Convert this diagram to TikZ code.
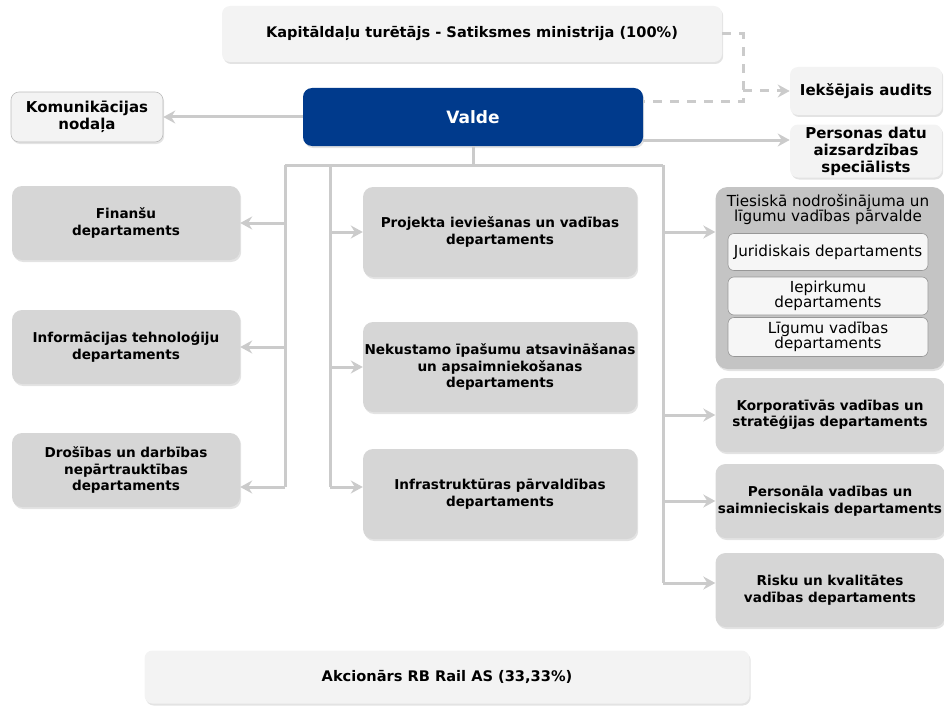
\documentclass[tikz,border=0pt]{standalone}
\usepackage{fontspec}
\setmainfont{DejaVu Sans}
\usetikzlibrary{arrows.meta,shadows}
\newcommand{\boxfont}{\fontsize{13.6}{16.5}\selectfont}
\newcommand{\lightfont}{\fontsize{15}{17}\selectfont}
\newcommand{\widefont}{\fontsize{14.6}{17}\selectfont}
\newcommand{\subfont}{\fontsize{15.2}{15}\selectfont}

\begin{document}
\begin{tikzpicture}[x=1pt,y=-1pt,
  shade box/.style={drop shadow={opacity=0.22,shadow xshift=1.2pt,shadow yshift=-2pt}},
  deptbox/.style={shade box,rounded corners=10pt,fill=deptgray,align=center,inner sep=1pt,font=\bfseries\boxfont},
  lightbox/.style={shade box,rounded corners=8pt,fill=lightfill,draw=edgegray,line width=0.6pt,align=center,inner sep=1pt,font=\bfseries\lightfont},
  subbox/.style={rounded corners=6pt,fill=subfill,draw=edgegray!80!black,line width=0.6pt,align=center,inner sep=1pt,font=\subfont},
  link/.style={draw=linegray,line width=3pt},
  linkarr/.style={link,-{Stealth[length=12pt,width=13pt,inset=4pt]}},
  dlink/.style={link,dash pattern=on 9pt off 8pt}]
\definecolor{valdeblue}{HTML}{003A8C}
\definecolor{deptgray}{HTML}{D6D6D6}
\definecolor{groupgray}{HTML}{C4C4C4}
\definecolor{lightfill}{HTML}{F3F3F3}
\definecolor{subfill}{HTML}{F6F6F6}
\definecolor{edgegray}{HTML}{BDBDBD}
\definecolor{linegray}{HTML}{CBCBCB}
\useasboundingbox (0,0) rectangle (944,706);

% top level
\node[lightbox,font=\bfseries\widefont,minimum width=500pt,minimum height=56pt,draw=none] (owner) at (472,34) {Kapitāldaļu turētājs - Satiksmes ministrija (100\%)};
\node[shade box,rounded corners=9pt,fill=valdeblue,text=white,font=\bfseries\fontsize{17}{19}\selectfont,minimum width=340pt,minimum height=58pt] (valde) at (473,117) {Valde};
\node[lightbox,minimum width=152pt,minimum height=50pt] (komun) at (87,117) {Komunikācijas\\nodaļa};
\node[lightbox,minimum width=152pt,minimum height=48pt,draw=none] (audits) at (866,91) {Iekšējais audits};
\node[lightbox,minimum width=152pt,minimum height=53pt,draw=none] (personas) at (866,151) {Personas datu\\aizsardzības\\speciālists};
\node[lightbox,font=\bfseries\widefont,minimum width=605pt,minimum height=53pt,draw=none] (akcionars) at (447,677) {Akcionārs RB Rail AS (33,33\%)};

% left column
\foreach \nm/\ypos/\txt in {finansu/223/{Finanšu\\departaments},
    infotech/347/{Informācijas tehnoloģiju\\departaments},
    drosibas/470/{Drošības un darbības\\nepārtrauktības\\departaments}}
  {\node[deptbox,minimum width=228pt,minimum height=74pt] (\nm) at (126,\ypos) {\txt};}

% middle column
\foreach \nm/\ypos/\txt in {projekta/232/{Projekta ieviešanas un vadības\\departaments},
    nekustamo/367/{Nekustamo īpašumu atsavināšanas\\un apsaimniekošanas\\departaments},
    infra/494/{Infrastruktūras pārvaldības\\departaments}}
  {\node[deptbox,minimum width=274pt,minimum height=90pt] (\nm) at (500,\ypos) {\txt};}

% right column
\node[shade box,rounded corners=12pt,fill=groupgray,minimum width=229pt,minimum height=182pt] (tiesiska) at (830,278) {};
\node[font=\subfont,align=center,inner sep=0pt] (tieshead) at (828,210) {Tiesiskā nodrošinājuma un\\līgumu vadības pārvalde};
\node[subbox,minimum width=200pt,minimum height=37pt] (juridiskais) at (828,252) {Juridiskais departaments};
\node[subbox,minimum width=200pt,minimum height=38pt] (iepirkumu) at (828,296) {Iepirkumu\\departaments};
\node[subbox,minimum width=200pt,minimum height=39pt] (ligumu) at (828,337) {Līgumu vadības\\departaments};
\foreach \nm/\ypos/\txt in {korporativas/415/{Korporatīvās vadības un\\stratēģijas departaments},
    personala/501/{Personāla vadības un\\saimnieciskais departaments},
    risku/590/{Risku un kvalitātes\\vadības departaments}}
  {\node[deptbox,minimum width=229pt,minimum height=74pt] (\nm) at (830,\ypos) {\txt};}

% bus lines
\coordinate (busmid) at (473,165);
\coordinate (busL) at (285,165);
\coordinate (busM) at (330,165);
\coordinate (busR) at (663,165);
\coordinate (dashcorner) at (743,102);
\draw[link] (valde.south) -- (busmid);
\draw[link] (busL) -- (busR);
\draw[link] (busL) -- (285,487);
\draw[link] (busM) -- (330,487);
\draw[link] (busR) -- (663,583);

% arrows
\draw[linkarr] (valde.west) -- (komun.east);
\draw[linkarr] (valde.east |- 0,140) -- (personas.west |- 0,140);
\draw[dlink] (owner.east) -| (dashcorner) -- (valde.east |- dashcorner);
\draw[dlink,-{Stealth[length=12pt,width=13pt,inset=4pt]}] (dashcorner |- audits.west) -- (audits.west);
\foreach \nm in {finansu,infotech}
  {\draw[linkarr] (busL |- \nm.east) -- (\nm.east);}
\draw[linkarr] (busL |- 0,487) -- (drosibas.east |- 0,487);
\foreach \nm in {projekta,nekustamo}
  {\draw[linkarr] (busM |- \nm.west) -- (\nm.west);}
\draw[linkarr] (busM |- 0,487) -- (infra.west |- 0,487);
\draw[linkarr] (busR |- 0,232) -- (tiesiska.west |- 0,232);
\foreach \nm in {korporativas,personala}
  {\draw[linkarr] (busR |- \nm.west) -- (\nm.west);}
\draw[linkarr] (busR |- 0,583) -- (risku.west |- 0,583);
\end{tikzpicture}
\end{document}
